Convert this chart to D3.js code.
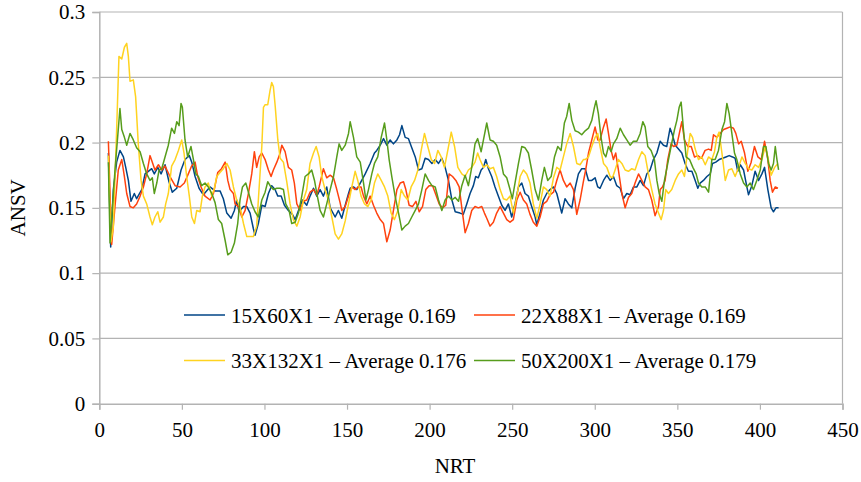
<!DOCTYPE html>
<html>
<head>
<meta charset="utf-8">
<script src="https://cdn.jsdelivr.net/npm/d3@7"></script>
<style>
  html, body { margin: 0; padding: 0; background: #fff; }
  svg { display: block; font-family: "Liberation Serif", "Times New Roman", Times, serif; }
</style>
</head>
<body>
<svg id="chart" width="861" height="482"></svg>
<script>
// NRT / ANSV samples for each block configuration
const s15x60 = [[5.5,0.192],[6.9,0.120],[8.5,0.164],[10.5,0.185],[12.5,0.194],[14.6,0.189],[16,0.181],[17.6,0.171],[19.2,0.155],[21.2,0.161],[22.6,0.157],[25.7,0.164],[27.7,0.176],[29.7,0.178],[31.7,0.180],[33.3,0.176],[35.4,0.181],[37.4,0.176],[39.8,0.183],[42.2,0.170],[44.2,0.162],[46.9,0.165],[49.5,0.179],[51.9,0.187],[54.5,0.190],[56,0.185],[58,0.174],[60.4,0.165],[63,0.160],[67,0.166],[70.1,0.163],[73.1,0.163],[75.1,0.157],[77.2,0.146],[79.8,0.142],[81.8,0.148],[83.2,0.156],[84.6,0.147],[87.3,0.151],[89.3,0.151],[91.3,0.146],[93.3,0.134],[94.3,0.129],[96.3,0.138],[98.4,0.152],[100.4,0.151],[102.4,0.161],[104.4,0.167],[106.4,0.164],[108.1,0.159],[110.1,0.159],[112.1,0.152],[114.5,0.148],[116.9,0.145],[118.6,0.141],[120.6,0.148],[123,0.156],[125.6,0.152],[127.6,0.159],[129.7,0.165],[131.7,0.159],[133.7,0.164],[135.7,0.159],[137.7,0.166],[139.8,0.150],[142.8,0.143],[144.8,0.148],[146.8,0.142],[148.9,0.152],[150.9,0.161],[151.9,0.165],[153.9,0.166],[155.9,0.164],[158,0.169],[161,0.176],[164,0.184],[166.6,0.192],[168,0.194],[170.1,0.198],[172.1,0.203],[174.1,0.198],[176.1,0.202],[178.1,0.199],[180.2,0.202],[181.8,0.206],[183.2,0.213],[185.2,0.204],[187.2,0.203],[189.2,0.196],[191.3,0.189],[193.3,0.179],[195.3,0.180],[197.3,0.188],[199.3,0.187],[201.4,0.184],[203.4,0.187],[205.4,0.184],[207.4,0.188],[209.4,0.181],[211.4,0.171],[213.5,0.156],[215.5,0.147],[218.4,0.146],[220.4,0.145],[222.5,0.153],[224.5,0.161],[226.5,0.167],[227.9,0.174],[229.5,0.173],[231.2,0.179],[232.6,0.181],[234,0.187],[235.6,0.180],[237.6,0.174],[239.6,0.166],[241.6,0.159],[243.7,0.152],[245.7,0.148],[247.7,0.153],[249.7,0.143],[251.7,0.153],[253.8,0.166],[255.8,0.169],[257.8,0.161],[259.8,0.159],[261.8,0.151],[263.9,0.143],[264.9,0.137],[266.9,0.146],[268.9,0.156],[270.9,0.161],[272.9,0.164],[275,0.166],[277,0.161],[279,0.151],[280,0.146],[282,0.157],[284,0.153],[286.1,0.150],[288.1,0.165],[290.1,0.176],[292.1,0.180],[294.2,0.180],[296.2,0.171],[298.2,0.171],[300.2,0.173],[301.8,0.166],[303.2,0.165],[305.3,0.171],[307.3,0.175],[309.3,0.171],[311.3,0.174],[313.3,0.167],[315.4,0.165],[317.4,0.157],[319.4,0.161],[321.4,0.160],[323.4,0.166],[325.5,0.166],[327.5,0.171],[329.5,0.167],[331.5,0.176],[333.5,0.179],[335.5,0.187],[337.6,0.192],[339.6,0.201],[341.6,0.198],[343.6,0.197],[345.6,0.211],[347,0.206],[348.7,0.198],[350.7,0.195],[352.7,0.192],[354.7,0.184],[356.7,0.178],[358.8,0.178],[360.8,0.171],[362.4,0.165],[363.8,0.169],[365.8,0.171],[367.9,0.174],[369.9,0.176],[371.3,0.184],[373.3,0.185],[375.3,0.187],[377.4,0.188],[379.4,0.189],[381.4,0.190],[383.4,0.189],[385,0.188],[386.6,0.178],[388.1,0.183],[390.1,0.179],[392.1,0.166],[393.1,0.160],[395.1,0.167],[397.1,0.178],[399.2,0.171],[401.2,0.176],[402.8,0.181],[404.8,0.164],[406.8,0.150],[408.2,0.147],[409.7,0.150],[411.3,0.150]];

const s22x88 = [[5.5,0.201],[7.5,0.122],[9.5,0.151],[11.5,0.179],[13.6,0.187],[15.2,0.174],[16.6,0.161],[18.6,0.151],[20.6,0.150],[22.6,0.153],[24.7,0.159],[26.7,0.166],[28.7,0.176],[30.7,0.190],[32.1,0.185],[33.7,0.179],[35.8,0.183],[37.8,0.179],[39.8,0.182],[42.8,0.174],[45.9,0.167],[48.9,0.166],[51.5,0.169],[53.9,0.176],[55.9,0.182],[58,0.185],[59.6,0.174],[61.6,0.166],[64,0.159],[67.1,0.156],[69.1,0.161],[71.7,0.177],[74,0.180],[76.2,0.185],[77.8,0.171],[79.2,0.164],[81.2,0.161],[82.2,0.153],[84.2,0.151],[86.3,0.143],[88.3,0.148],[90.3,0.161],[92.3,0.176],[93.9,0.193],[95.3,0.181],[96.8,0.189],[98.4,0.192],[100.4,0.187],[102.4,0.179],[104,0.174],[105.4,0.179],[107.5,0.185],[109.5,0.192],[110.5,0.198],[112.5,0.193],[114.5,0.181],[116.5,0.179],[118.1,0.169],[119.6,0.153],[121.6,0.148],[123.6,0.155],[125.6,0.156],[127.6,0.162],[129.7,0.164],[131.7,0.160],[133.1,0.166],[135.7,0.180],[137.7,0.173],[139.8,0.175],[141.8,0.173],[143.8,0.164],[145.8,0.154],[146.8,0.148],[148.9,0.151],[150.9,0.159],[152.9,0.166],[154.9,0.164],[156.9,0.166],[158.5,0.166],[160,0.159],[162,0.153],[164,0.159],[166,0.152],[168,0.146],[170.1,0.141],[172.1,0.138],[174.1,0.124],[176.1,0.133],[178.1,0.148],[180.2,0.164],[182.2,0.169],[184.2,0.170],[185.6,0.164],[187.6,0.152],[189.6,0.151],[191.7,0.155],[193.7,0.147],[195.7,0.151],[197.7,0.164],[199.7,0.167],[201.8,0.167],[203.8,0.160],[205.8,0.153],[207.8,0.150],[209.8,0.152],[211.8,0.176],[213.9,0.174],[215.9,0.171],[217.9,0.166],[219.6,0.149],[221.5,0.131],[223.5,0.138],[225.5,0.148],[227.5,0.151],[229.5,0.150],[231.6,0.151],[233.2,0.146],[234.6,0.142],[236.6,0.136],[238.6,0.139],[240.6,0.146],[242.7,0.151],[244.7,0.146],[246.7,0.141],[248.7,0.139],[250.7,0.141],[252.8,0.156],[254.8,0.162],[256.8,0.156],[258.8,0.153],[260.8,0.145],[262.8,0.139],[264.9,0.136],[266.9,0.143],[268.9,0.153],[270.9,0.155],[272.9,0.160],[275,0.162],[277,0.171],[279,0.179],[281,0.171],[283,0.166],[285.1,0.169],[287.1,0.164],[289.1,0.145],[291.1,0.156],[293.1,0.170],[294.5,0.179],[296.2,0.192],[298.2,0.202],[300.2,0.212],[301.8,0.202],[303.2,0.202],[305.3,0.212],[306.9,0.218],[308.3,0.207],[309.9,0.194],[311.3,0.187],[312.7,0.192],[314.3,0.179],[316.4,0.161],[318.4,0.150],[320.4,0.158],[322.4,0.161],[324.4,0.169],[326.5,0.176],[328.5,0.171],[330.5,0.166],[332.5,0.164],[334.5,0.156],[336.5,0.144],[338.6,0.151],[339.6,0.164],[341,0.166],[342.6,0.171],[344.2,0.187],[346.2,0.199],[347.7,0.197],[349.7,0.198],[351.7,0.210],[352.7,0.216],[354.3,0.202],[356.3,0.197],[358.4,0.197],[360.4,0.189],[362.4,0.190],[364.6,0.188],[366.8,0.194],[368.9,0.195],[370.5,0.194],[371.9,0.206],[373.9,0.204],[375.9,0.207],[378,0.210],[380,0.211],[382,0.212],[384,0.211],[385.4,0.207],[387.1,0.199],[388.7,0.201],[390.7,0.192],[392.7,0.178],[394.7,0.185],[396.7,0.197],[398.8,0.189],[400.8,0.187],[402.8,0.201],[404.8,0.187],[406.2,0.171],[407.6,0.162],[409.3,0.166],[410.9,0.165]];

const s33x132 = [[5.5,0.190],[7,0.124],[8.5,0.135],[10.5,0.210],[11.9,0.266],[13.6,0.264],[15.2,0.273],[16.6,0.276],[17.6,0.266],[18.6,0.247],[20.6,0.248],[22,0.235],[23.6,0.199],[25.3,0.171],[26.7,0.159],[28.7,0.153],[30.7,0.143],[32.1,0.137],[33.7,0.143],[35.4,0.147],[36.8,0.139],[38.8,0.143],[40.2,0.153],[41.8,0.161],[43.8,0.182],[45.9,0.187],[47.9,0.194],[49.9,0.202],[51.3,0.192],[52.9,0.174],[54.5,0.159],[56,0.143],[57.6,0.138],[59,0.148],[61,0.147],[62.4,0.159],[64,0.166],[66,0.169],[68.1,0.159],[69.7,0.165],[71.1,0.174],[73.1,0.177],[75.1,0.180],[77.2,0.184],[79.2,0.179],[81.2,0.166],[83.2,0.156],[85.2,0.151],[87.3,0.138],[89.3,0.128],[91.3,0.128],[93.3,0.128],[95.3,0.136],[96.8,0.166],[98.4,0.197],[99.4,0.227],[100.4,0.229],[102,0.229],[103.4,0.240],[104.4,0.246],[105.4,0.243],[106.5,0.228],[108.1,0.202],[109.5,0.188],[111.5,0.185],[113.5,0.170],[115.5,0.153],[117.5,0.141],[119.6,0.136],[121.6,0.143],[123.6,0.156],[125.6,0.164],[127.6,0.184],[129.7,0.192],[131.3,0.197],[133.1,0.189],[134.7,0.174],[136.7,0.164],[138.7,0.156],[140.8,0.143],[142.8,0.130],[144.8,0.126],[146.8,0.130],[148.9,0.140],[150.9,0.153],[152.9,0.166],[154.9,0.178],[156.5,0.171],[158.5,0.159],[160.6,0.153],[162.6,0.151],[164.6,0.156],[166.6,0.169],[168.6,0.176],[170.7,0.171],[172.7,0.166],[174.7,0.159],[176.7,0.146],[178.7,0.141],[180.8,0.148],[182.8,0.164],[184.8,0.159],[186.8,0.156],[188.8,0.166],[190.9,0.171],[192.9,0.179],[194.9,0.194],[196.9,0.207],[198.9,0.197],[201,0.187],[203,0.184],[205,0.194],[207,0.189],[209,0.181],[211,0.194],[213.1,0.208],[215.1,0.197],[217.1,0.181],[219.5,0.176],[221.5,0.174],[223.5,0.179],[225.5,0.181],[227.5,0.185],[229.1,0.192],[230.5,0.187],[232.6,0.181],[234.6,0.183],[236.6,0.180],[238.6,0.181],[240.6,0.174],[242.7,0.164],[244.7,0.157],[246.7,0.156],[248.7,0.159],[250.7,0.146],[252.8,0.159],[254.8,0.174],[256.8,0.179],[258.8,0.176],[260.8,0.169],[262.8,0.153],[264.9,0.142],[266.9,0.153],[268.9,0.166],[270.9,0.164],[272.9,0.159],[275,0.173],[277,0.181],[279,0.179],[281,0.189],[283,0.199],[285.1,0.207],[287.1,0.197],[289.1,0.184],[291.1,0.183],[293.1,0.187],[294.2,0.187],[296.2,0.189],[298.2,0.197],[300.2,0.204],[301.8,0.207],[303.2,0.197],[305.3,0.184],[307.3,0.181],[309.3,0.174],[310.7,0.173],[312.3,0.179],[314.3,0.187],[316.4,0.184],[318.4,0.179],[320.4,0.178],[322.4,0.180],[324.4,0.179],[326.5,0.187],[328.5,0.193],[330.5,0.190],[332.5,0.176],[334.5,0.164],[336.5,0.153],[338.6,0.146],[340.2,0.141],[341.6,0.148],[343,0.164],[344.6,0.161],[346.6,0.164],[348.7,0.171],[350.7,0.176],[352.7,0.179],[354.3,0.174],[356.3,0.194],[357.8,0.207],[359.2,0.204],[360.8,0.195],[362.8,0.187],[364.8,0.189],[366.9,0.183],[368.9,0.189],[370.9,0.187],[372.5,0.193],[373.9,0.204],[375.3,0.208],[377,0.192],[379,0.171],[381,0.179],[383,0.180],[385,0.174],[387.1,0.181],[389.1,0.189],[391.1,0.184],[393.1,0.180],[395.1,0.179],[397.1,0.183],[399.2,0.181],[401.2,0.187],[403.2,0.197],[404.8,0.189],[406.8,0.175],[408.9,0.181],[410.9,0.184]];

const s50x200 = [[5.5,0.185],[6.5,0.123],[9.5,0.179],[12.5,0.226],[13.6,0.210],[15.2,0.204],[16.6,0.198],[18.6,0.207],[20.6,0.202],[22.6,0.196],[24.7,0.193],[26.7,0.184],[28.7,0.176],[30.7,0.171],[32.1,0.173],[33.3,0.161],[34.8,0.169],[36.2,0.179],[37.8,0.180],[39.8,0.189],[41.8,0.198],[43.8,0.211],[45.5,0.207],[46.9,0.216],[48.3,0.213],[49.5,0.230],[50.3,0.227],[51.9,0.202],[53.5,0.189],[55.5,0.197],[57,0.187],[58.4,0.176],[60,0.174],[62,0.167],[64,0.169],[66,0.166],[68.1,0.161],[70.1,0.154],[72.1,0.141],[74.1,0.138],[76.2,0.125],[77.8,0.114],[79.8,0.116],[81.8,0.123],[83.8,0.138],[85.2,0.156],[86.7,0.166],[88.7,0.169],[90.3,0.162],[92.3,0.153],[94.3,0.147],[96.3,0.143],[98.4,0.156],[100.4,0.162],[102,0.170],[103.4,0.167],[105.4,0.164],[107.5,0.165],[109.5,0.165],[111.5,0.164],[112.9,0.153],[114.9,0.148],[116.5,0.138],[118.6,0.139],[120.6,0.146],[122.6,0.159],[124.6,0.174],[126.6,0.176],[128.6,0.179],[130.3,0.171],[131.7,0.161],[133.7,0.148],[135.7,0.143],[137.7,0.153],[139.8,0.164],[141.8,0.174],[143.8,0.189],[145.2,0.199],[146.8,0.194],[148.9,0.198],[150.9,0.207],[151.9,0.216],[153.9,0.204],[155.9,0.189],[158,0.185],[160,0.169],[161.4,0.156],[163,0.164],[165,0.176],[166.6,0.184],[168.6,0.189],[170.7,0.204],[172.7,0.215],[174.1,0.202],[175.5,0.187],[177.1,0.174],[179.1,0.159],[181.2,0.146],[183.2,0.133],[185.2,0.136],[187.2,0.138],[189.2,0.143],[191.3,0.148],[193.3,0.153],[195.3,0.164],[197.3,0.176],[199.3,0.171],[201.4,0.167],[203.4,0.166],[205.4,0.156],[207.4,0.148],[209.4,0.156],[211.4,0.159],[213.5,0.156],[215.5,0.158],[217.5,0.155],[219.5,0.167],[221.5,0.175],[223.5,0.167],[225.5,0.181],[227.5,0.199],[229.1,0.203],[231.2,0.193],[232.6,0.202],[234.6,0.215],[236.6,0.202],[238.6,0.201],[240.6,0.198],[242.7,0.189],[244.7,0.176],[246.7,0.173],[248.7,0.164],[250.1,0.157],[251.7,0.169],[253.8,0.184],[255.8,0.197],[257.8,0.196],[259.8,0.192],[261.8,0.179],[263.9,0.164],[265.9,0.156],[267.9,0.171],[269.5,0.181],[271.5,0.171],[273.6,0.174],[275.6,0.189],[277.6,0.197],[279.6,0.194],[281.6,0.215],[283,0.220],[284.5,0.230],[286.1,0.217],[288.1,0.209],[290.1,0.208],[292.1,0.206],[294.2,0.209],[296.2,0.211],[298.2,0.217],[299.8,0.227],[300.8,0.232],[302.2,0.222],[303.8,0.204],[305.3,0.192],[306.7,0.189],[308.3,0.197],[309.9,0.193],[311.3,0.199],[313.3,0.203],[315.4,0.211],[317.4,0.206],[319.4,0.202],[321.4,0.198],[323.4,0.201],[325.5,0.201],[327.5,0.207],[329.1,0.216],[330.5,0.212],[332.1,0.197],[334.1,0.194],[336.1,0.187],[337.6,0.171],[339,0.161],[340.6,0.155],[342.2,0.171],[344.2,0.184],[346.2,0.197],[348.3,0.210],[349.7,0.217],[351.1,0.227],[352.3,0.231],[353.7,0.210],[355.3,0.189],[357.4,0.187],[359.4,0.181],[361.4,0.176],[362.8,0.169],[364.8,0.166],[366.9,0.166],[368.9,0.162],[370.9,0.187],[372.9,0.187],[374.9,0.194],[377,0.210],[378.6,0.216],[380,0.230],[381.4,0.222],[383,0.207],[384.6,0.192],[386,0.187],[388.1,0.176],[390.1,0.169],[392.1,0.166],[394.1,0.169],[396.1,0.164],[398.1,0.171],[400.2,0.179],[402.2,0.197],[403.6,0.197],[405.2,0.184],[406.8,0.179],[408.2,0.184],[409.3,0.197],[410.3,0.187],[411.3,0.179]];

const seriesNames = ["15X60X1 – Average 0.169", "22X88X1 – Average 0.169",
                     "33X132X1 – Average 0.176", "50X200X1 – Average 0.179"];
const seriesColors = ["#004586", "#ff420e", "#ffd320", "#579d1c"];
const xTicks = [0, 50, 100, 150, 200, 250, 300, 350, 400, 450];
const yTicks = [0, 0.05, 0.1, 0.15, 0.2, 0.25, 0.3];
const xTitle = "NRT";
const yTitle = "ANSV";

const series = [s15x60, s22x88, s33x132, s50x200];

const svg = d3.select("#chart");
const plot = { left: 99.3, right: 842.5, top: 12, bottom: 403.7 };
const grid = "#b3b3b3";
const serif = "'Liberation Serif', 'Times New Roman', Times, serif";
const fontSize = "21px";

const x = d3.scaleLinear().domain([0, 450]).range([plot.left, plot.right]);
const y = d3.scaleLinear().domain([0, 0.3]).range([plot.bottom, plot.top]);

// horizontal gridlines
svg.append("g")
  .selectAll("line")
  .data(yTicks.filter(t => t > 0))
  .join("line")
  .attr("x1", plot.left).attr("x2", plot.right)
  .attr("y1", d => y(d)).attr("y2", d => y(d))
  .attr("stroke", grid).attr("stroke-width", 1.2);

// right frame edge
svg.append("line")
  .attr("x1", plot.right).attr("x2", plot.right)
  .attr("y1", plot.top).attr("y2", plot.bottom)
  .attr("stroke", grid).attr("stroke-width", 1.2);

// axes
const fmt = d => String(+d.toFixed(2));
const yAxis = svg.append("g")
  .attr("transform", `translate(${plot.left},0)`)
  .call(d3.axisLeft(y).tickValues(yTicks).tickFormat(fmt).tickSize(7).tickPadding(7));
const xAxis = svg.append("g")
  .attr("transform", `translate(0,${plot.bottom})`)
  .call(d3.axisBottom(x).tickValues(xTicks).tickFormat(d3.format("d")).tickSize(6).tickPadding(12));

[yAxis, xAxis].forEach(g => {
  g.attr("font-family", null).attr("font-size", null);
  g.select(".domain").attr("stroke", grid).attr("stroke-width", 1.5);
  g.selectAll(".tick line").attr("stroke", grid).attr("stroke-width", 1.2);
  g.selectAll(".tick text")
    .attr("fill", "#000")
    .style("font-family", serif)
    .style("font-size", fontSize);
});

// data lines
const line = d3.line().x(d => x(d[0])).y(d => y(d[1]));
svg.append("g")
  .selectAll("path")
  .data(series)
  .join("path")
  .attr("d", line)
  .attr("fill", "none")
  .attr("stroke", (d, i) => seriesColors[i])
  .attr("stroke-width", 1.5)
  .attr("stroke-linejoin", "round");

// axis titles
svg.append("text")
  .attr("x", 455)
  .attr("y", 473)
  .attr("text-anchor", "middle")
  .style("font-family", serif)
  .style("font-size", fontSize)
  .text(xTitle);
svg.append("text")
  .attr("transform", `translate(25,${(plot.top + plot.bottom) / 2}) rotate(-90)`)
  .attr("text-anchor", "middle")
  .style("font-family", serif)
  .style("font-size", fontSize)
  .text(yTitle);

// legend: two columns, two rows
const legendPos = [
  { lx: 184, ly: 315 }, { lx: 474, ly: 315 },
  { lx: 184, ly: 360.5 }, { lx: 474, ly: 360.5 }
];
const legend = svg.append("g")
  .selectAll("g")
  .data(seriesNames)
  .join("g")
  .attr("transform", (d, i) => `translate(${legendPos[i].lx},${legendPos[i].ly})`);
legend.append("line")
  .attr("x1", 0).attr("x2", 41)
  .attr("y1", 0).attr("y2", 0)
  .attr("stroke", (d, i) => seriesColors[i])
  .attr("stroke-width", 1.5);
legend.append("text")
  .attr("x", 47)
  .attr("y", 7.5)
  .style("font-family", serif)
  .style("font-size", fontSize)
  .text(d => d);
</script>
</body>
</html>
